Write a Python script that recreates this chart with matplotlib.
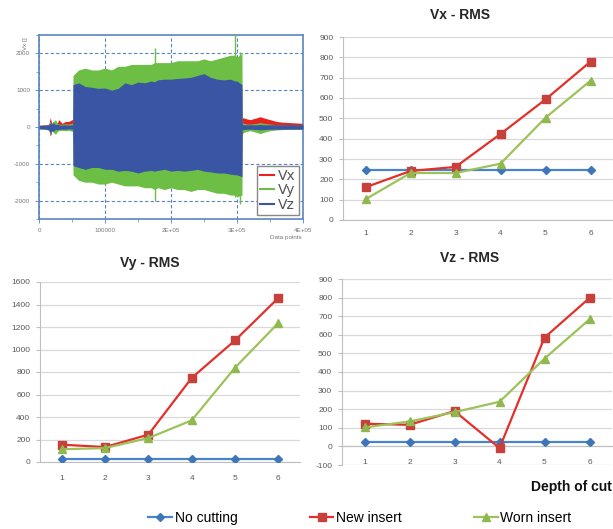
import numpy as np
import matplotlib.pyplot as plt
from matplotlib.lines import Line2D

plt.rcParams['font.family'] = ['Liberation Sans Narrow', 'Liberation Sans', 'DejaVu Sans']
plt.rcParams['axes.unicode_minus'] = False

# ---- RMS data (depth of cut 1..6) ----
depth = [1, 2, 3, 4, 5, 6]
vx_no_cut = [245, 245, 245, 245, 245, 245]
vx_new = [161, 241, 261, 423, 593, 779]
vx_worn = [102, 231, 231, 277, 503, 685]

vy_no_cut = [30, 30, 30, 30, 30, 30]
vy_new = [154, 133, 243, 747, 1081, 1458]
vy_worn = [113, 124, 213, 370, 838, 1236]

vz_no_cut = [21, 21, 21, 21, 21, 21]
vz_new = [122, 116, 190, -9, 585, 798]
vz_worn = [102, 134, 184, 240, 472, 683]

# ---- raw signal envelopes ----
sig_x = [0, 10000, 15000, 17000, 18000, 19000, 22000, 25000, 28000, 30000, 35000,
         40000, 45000, 50000, 51000,
         51500, 60000, 70000, 80000, 90000, 100000, 110000, 120000, 130000, 140000,
         150000, 160000, 170000, 175000, 180000, 190000, 200000, 210000, 220000,
         230000, 240000, 250000, 260000, 270000, 280000, 290000, 297000, 300000, 307500,
         308000, 310000, 315000, 320000, 330000, 335000, 340000, 350000, 360000,
         370000, 380000, 390000, 400000]

vx_hi = [50, 60, 80, 250, 200, 100, 150, 100, 120, 200, 100, 150, 150, 200, 200,
         200, 200, 200, 200, 200, 200, 200, 200, 200, 200,
         200, 200, 200, 200, 200, 200, 200, 200, 200,
         200, 200, 200, 200, 200, 200, 200, 200, 200, 200,
         250, 250, 220, 200, 250, 280, 250, 200, 150, 130, 120, 110, 100]
vx_lo = [-30, -40, -80, -250, -200, -100, -100, -60, -80, -60, -50, -60, -50, -60, -60,
         -50, -50, -50, -50, -50, -50, -50, -50, -50, -50,
         -50, -50, -50, -50, -50, -50, -50, -50, -50,
         -50, -50, -50, -50, -50, -50, -50, -50, -50, -50,
         -20, 0, 0, 0, 20, 30, 30, 20, 20, 30, 40, 40, 40]

vy_hi = [40, 50, 70, 150, 120, 90, 150, 200, 100, 80, 70, 90, 80, 100, 100,
         1400, 1550, 1600, 1550, 1550, 1600, 1550, 1650, 1650, 1700,
         1700, 1700, 1700, 1750, 1750, 1750, 1750, 1800, 1800,
         1800, 1800, 1850, 1800, 1850, 1900, 1950, 1950, 1900, 2000,
         120, 100, 80, 80, 100, 120, 100, 80, 60, 60, 50, 50, 50]
vy_lo = [-50, -60, -90, -200, -150, -100, -150, -200, -120, -100, -90, -100, -90, -120, -120,
         -1300, -1450, -1500, -1500, -1550, -1550, -1500, -1550, -1600, -1600,
         -1600, -1650, -1650, -1700, -1650, -1700, -1650, -1700, -1700,
         -1750, -1700, -1700, -1750, -1800, -1800, -1850, -1850, -1900, -1850,
         -200, -150, -120, -100, -150, -180, -150, -100, -80, -70, -60, -60, -60]

vz_hi = [40, 50, 60, 100, 150, 80, 120, 60, 80, 60, 50, 60, 50, 60, 60,
         1150, 1200, 1100, 1080, 1050, 1060, 1000, 1050, 1200, 1150,
         1220, 1200, 1250, 1230, 1280, 1300, 1300, 1320, 1330,
         1350, 1400, 1450, 1350, 1300, 1280, 1300, 1250, 1250, 1150,
         80, 60, 60, 60, 60, 70, 60, 60, 60, 60, 60, 60, 60]
vz_lo = [-50, -60, -80, -150, -200, -100, -120, -60, -80, -60, -60, -60, -50, -60, -60,
         -1050, -1100, -1150, -1100, -1100, -1150, -1150, -1200, -1180, -1200,
         -1250, -1200, -1180, -1200, -1180, -1150, -1200, -1180, -1200,
         -1180, -1150, -1200, -1220, -1250, -1250, -1280, -1300, -1300, -1350,
         -80, -70, -60, -60, -70, -80, -70, -60, -60, -60, -60, -60, -60]

vy_spike_x = [175000, 297000, 305000]
vy_spike_hi = [2150, 2500, 2050]
vy_spike_lo = [-2000, -1900, -2100]

c_blue, c_red, c_green = '#4a84c6', '#e2302a', '#9cc25a'
m_blue, m_red, m_green = '#3f76bb', '#c8403a', '#8fb84e'
frame = '#5a86c0'

fig = plt.figure(figsize=(6.13, 5.29), dpi=100)
W, H = 613.0, 529.0


def box(l, t, r, b):
    return [l / W, 1 - b / H, (r - l) / W, (b - t) / H]


# ---- signal plot ----
ax0 = fig.add_axes(box(39, 35, 303, 219))
ax0.set_axisbelow(True)
ax0.fill_between(sig_x, vx_lo, vx_hi, color='#e8231e', lw=0, zorder=2)
ax0.fill_between(sig_x, vy_lo, vy_hi, color='#6cbf44', lw=0, zorder=3)
ax0.vlines(vy_spike_x, vy_spike_lo, vy_spike_hi, color='#6cbf44', lw=1, zorder=3)
ax0.fill_between(sig_x, vz_lo, vz_hi, color='#3a55a4', lw=0, zorder=4)
ax0.set_xlim(0, 400000)
ax0.set_ylim(-2500, 2500)
ax0.set_xticks([0, 100000, 200000, 300000, 400000])
ax0.set_xticklabels(['0', '100000', '2E+05', '3E+05', '4E+05'])
ax0.set_yticks([-2000, -1000, 0, 1000, 2000])
ax0.set_xticks(np.arange(0, 400001, 50000), minor=True)
ax0.set_yticks(np.arange(-2500, 2501, 500), minor=True)
ax0.tick_params(labelsize=4.5, labelcolor='#777777', length=3, width=0.6, color=frame)
ax0.tick_params(which='minor', length=2, width=0.5, color=frame)
ax0.grid(True, ls=(0, (3, 2)), color=frame, lw=0.8)
for s in ax0.spines.values():
    s.set_color(frame)
    s.set_linewidth(1.2)
ax0.text(-0.04, 0.985, 'Vx []', transform=ax0.transAxes, rotation=90,
         fontsize=4.5, color='#777777', ha='right', va='top')
ax0.text(0.995, -0.085, 'Data points', transform=ax0.transAxes, fontsize=4.5,
         color='#777777', ha='right', va='top')
hs = [Line2D([], [], color='#e8231e', lw=1.5),
      Line2D([], [], color='#6cbf44', lw=1.5),
      Line2D([], [], color='#3a55a4', lw=1.5)]
lg = ax0.legend(hs, ['Vx', 'Vy', 'Vz'], loc='lower right',
                handlelength=1.0, handletextpad=0.3, labelspacing=0.05,
                borderpad=0.2, borderaxespad=0.3, fancybox=False, framealpha=1,
                prop={'family': 'DejaVu Sans', 'size': 10})
lg.get_frame().set_edgecolor('#888888')
lg.get_frame().set_linewidth(1.0)
lg.set_zorder(10)
for t in lg.get_texts():
    t.set_color('#555555')


def rms_panel(rect, no_cut, new, worn, ylim, step, title, title_xy, xpad, zero_axis=False):
    ax = fig.add_axes(box(*rect))
    ax.plot(depth, no_cut, color=c_blue, lw=1.6, marker='D', ms=4.5,
            mfc=m_blue, mec=m_blue, zorder=3)
    ax.plot(depth, new, color=c_red, lw=1.6, marker='s', ms=6,
            mfc=m_red, mec=m_red, zorder=4)
    ax.plot(depth, worn, color=c_green, lw=1.6, marker='^', ms=6,
            mfc=m_green, mec=m_green, zorder=5)
    ax.set_xlim(0.5, 6.5)
    ax.set_ylim(*ylim)
    ax.set_yticks(np.arange(ylim[0], ylim[1] + 1, step))
    ax.set_xticks(depth)
    ax.grid(True, axis='y', color='#d9d9d9', lw=0.9)
    ax.set_axisbelow(True)
    for k in ('top', 'right'):
        ax.spines[k].set_visible(False)
    ax.spines['left'].set_color('#bfbfbf')
    ax.spines['bottom'].set_color('#bfbfbf')
    if zero_axis:
        ax.spines['bottom'].set_position(('data', 0))
    ax.tick_params(labelsize=6, colors='#595959', length=0)
    ax.tick_params(axis='y', length=3, color='#bfbfbf', pad=4)
    ax.tick_params(axis='x', pad=xpad)
    fig.text(title_xy[0] / W, 1 - title_xy[1] / H, title, fontsize=10,
             fontweight='bold', ha='center', va='center', color='#262626')
    return ax


rms_panel((343, 37, 613, 220), vx_no_cut, vx_new, vx_worn, (0, 900), 100,
          'Vx - RMS', (460, 15), 7)
rms_panel((40, 282, 300, 462), vy_no_cut, vy_new, vy_worn, (0, 1600), 200,
          'Vy - RMS', (150, 263), 9)
rms_panel((342, 279, 612, 465), vz_no_cut, vz_new, vz_worn, (-100, 900), 100,
          'Vz - RMS', (470, 258), 9, zero_axis=True)

fig.text(612 / W, 1 - 487 / H, 'Depth of cut', fontsize=10, fontweight='bold',
         ha='right', va='center', color='#111111')

# shared legend at the bottom
lh = [Line2D([], [], color=c_blue, lw=1.6, marker='D', ms=4.5, mfc=m_blue, mec=m_blue),
      Line2D([], [], color=c_red, lw=1.6, marker='s', ms=6, mfc=m_red, mec=m_red),
      Line2D([], [], color=c_green, lw=1.6, marker='^', ms=6, mfc=m_green, mec=m_green)]
fig.legend(lh, ['No cutting', 'New insert', 'Worn insert'], loc='center',
           bbox_to_anchor=(360 / W, 1 - 518 / H), ncol=3, frameon=False,
           fontsize=10, handlelength=1.7, handletextpad=0.2, columnspacing=5.2)

fig.savefig('out.png', dpi=100)
